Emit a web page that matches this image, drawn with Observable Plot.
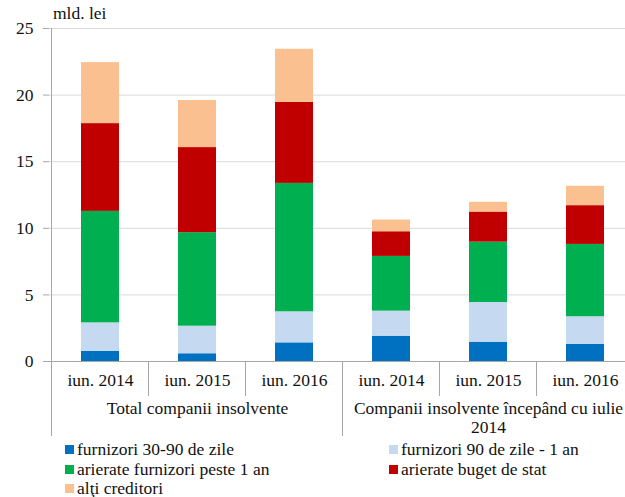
<!DOCTYPE html>
<html>
<head>
<meta charset="utf-8">
<script src="https://cdn.jsdelivr.net/npm/d3@7"></script>
<script src="https://cdn.jsdelivr.net/npm/@observablehq/plot@0.6"></script>
<style>
  html, body { margin: 0; padding: 0; background: #fff; overflow: hidden; width: 625px; height: 497px;
    font-family: "Liberation Serif", "Times New Roman", serif; }
  #wrap { position: relative; width: 640px; height: 497px; }
  .txt { font-family: "Liberation Serif", "Times New Roman", serif; font-size: 17.5px; color: #111; }
  .item { position: absolute; display: flex; align-items: center; height: 18px; line-height: 18px; white-space: nowrap; }
  .sw { display: inline-block; width: 9px; height: 9px; margin-right: 3px; }
  #unit { position: absolute; left: 53px; top: 4px; line-height: 18px; }
  #chart { position: absolute; left: 0; top: 0; }
</style>
</head>
<body>
<div id="wrap"><div id="chart"></div><div id="unit" class="txt">mld. lei</div><div id="legend"></div></div>
<script>
const categories = ["iun. 2014", "iun. 2015", "iun. 2016", "iun. 2014", "iun. 2015", "iun. 2016"];
const groupLabels = ["Total companii insolvente", "Companii insolvente începând cu iulie\n2014"];
const groupCenters = [1, 4]; // index of the middle category of each group
const seriesNames = ["furnizori 30-90 de zile", "furnizori 90 de zile - 1 an", "arierate furnizori peste 1 an", "arierate buget de stat", "alţi creditori"];
const seriesColors = ["#0070c0", "#c5d9f1", "#00b050", "#c00000", "#fac090"];
const furnizori30_90 = [0.77, 0.58, 1.40, 1.90, 1.45, 1.28];
const furnizori90_1an = [2.13, 2.07, 2.33, 1.88, 2.98, 2.08];
const arierateFurnizori = [8.37, 7.02, 9.64, 4.11, 4.53, 5.43];
const arierateBuget = [6.59, 6.39, 6.09, 1.85, 2.26, 2.91];
const altiCreditori = [4.58, 3.53, 3.98, 0.88, 0.73, 1.45];
const yTicks = [0, 5, 10, 15, 20, 25];

const seriesValues = [furnizori30_90, furnizori90_1an, arierateFurnizori, arierateBuget, altiCreditori];
const keys = categories.map((c, i) => String(i));
const data = [];
seriesValues.forEach((vals, s) => vals.forEach((v, i) => data.push({key: keys[i], series: seriesNames[s], value: v})));

const W = 640, H = 440, mL = 49, mR = 5, mT = 28, mB = 79;
const axisColor = "#a6a6a6";
const font = "Liberation Serif, Times New Roman, serif";
const fs = 17.5;

const chart = Plot.plot({
  width: W, height: H,
  marginLeft: mL, marginRight: mR, marginTop: mT, marginBottom: mB,
  style: {fontFamily: font, fontSize: fs + "px", color: "#111", background: "transparent", overflow: "visible"},
  x: {domain: keys, paddingInner: 0.61, paddingOuter: 0.305, label: null},
  y: {domain: [0, 25], label: null},
  color: {domain: seriesNames, range: seriesColors},
  marks: [
    Plot.gridY(yTicks, {stroke: "#d9d9d9", strokeOpacity: 1}),
    Plot.barY(data, {x: "key", y: "value", fill: "series"}),
    Plot.ruleY([0], {stroke: axisColor}),
    Plot.axisY(yTicks, {tickSize: 6, tickPadding: 10, stroke: axisColor, fontSize: fs, fill: "#111", label: null}),
    Plot.axisX({tickSize: 0, tickPadding: 12, tickFormat: k => categories[+k], fontSize: fs, fill: "#111", label: null}),
    Plot.text(groupLabels, {
      x: (d, i) => keys[groupCenters[i]], y: () => 0, text: d => d,
      dy: 39, lineAnchor: "top", fontSize: fs, fill: "#111", lineHeight: 1.1
    })
  ]
});
document.getElementById("chart").appendChild(chart);

// separators below the x axis, positioned with Plot's own x scale
const xs = chart.scale("x");
const ys = chart.scale("y");
const step = xs.step;
const y0 = ys.apply(0);
const svg = d3.select(chart);
const sep = svg.append("g").attr("stroke", axisColor).attr("stroke-width", 1);
const xLeft = xs.apply(keys[0]) - (step - xs.bandwidth) / 2;
sep.append("line").attr("x1", xLeft).attr("x2", xLeft).attr("y1", ys.apply(25)).attr("y2", y0 + 75);
keys.slice(1).forEach((k, j) => {
  const xp = xs.apply(k) - (step - xs.bandwidth) / 2;
  const long = (j + 1) === 3;
  sep.append("line").attr("x1", xp).attr("x2", xp).attr("y1", y0).attr("y2", y0 + (long ? 75 : 35));
});

// legend
const legend = document.getElementById("legend");
const pos = [[65, 440], [389, 440], [65, 460], [389, 460], [65, 479]];
seriesNames.forEach((n, i) => {
  const el = document.createElement("div");
  el.className = "item txt";
  el.style.left = pos[i][0] + "px";
  el.style.top = pos[i][1] + "px";
  el.innerHTML = `<span class="sw" style="background:${seriesColors[i]}"></span><span>${n}</span>`;
  legend.appendChild(el);
});
</script>
</body>
</html>
